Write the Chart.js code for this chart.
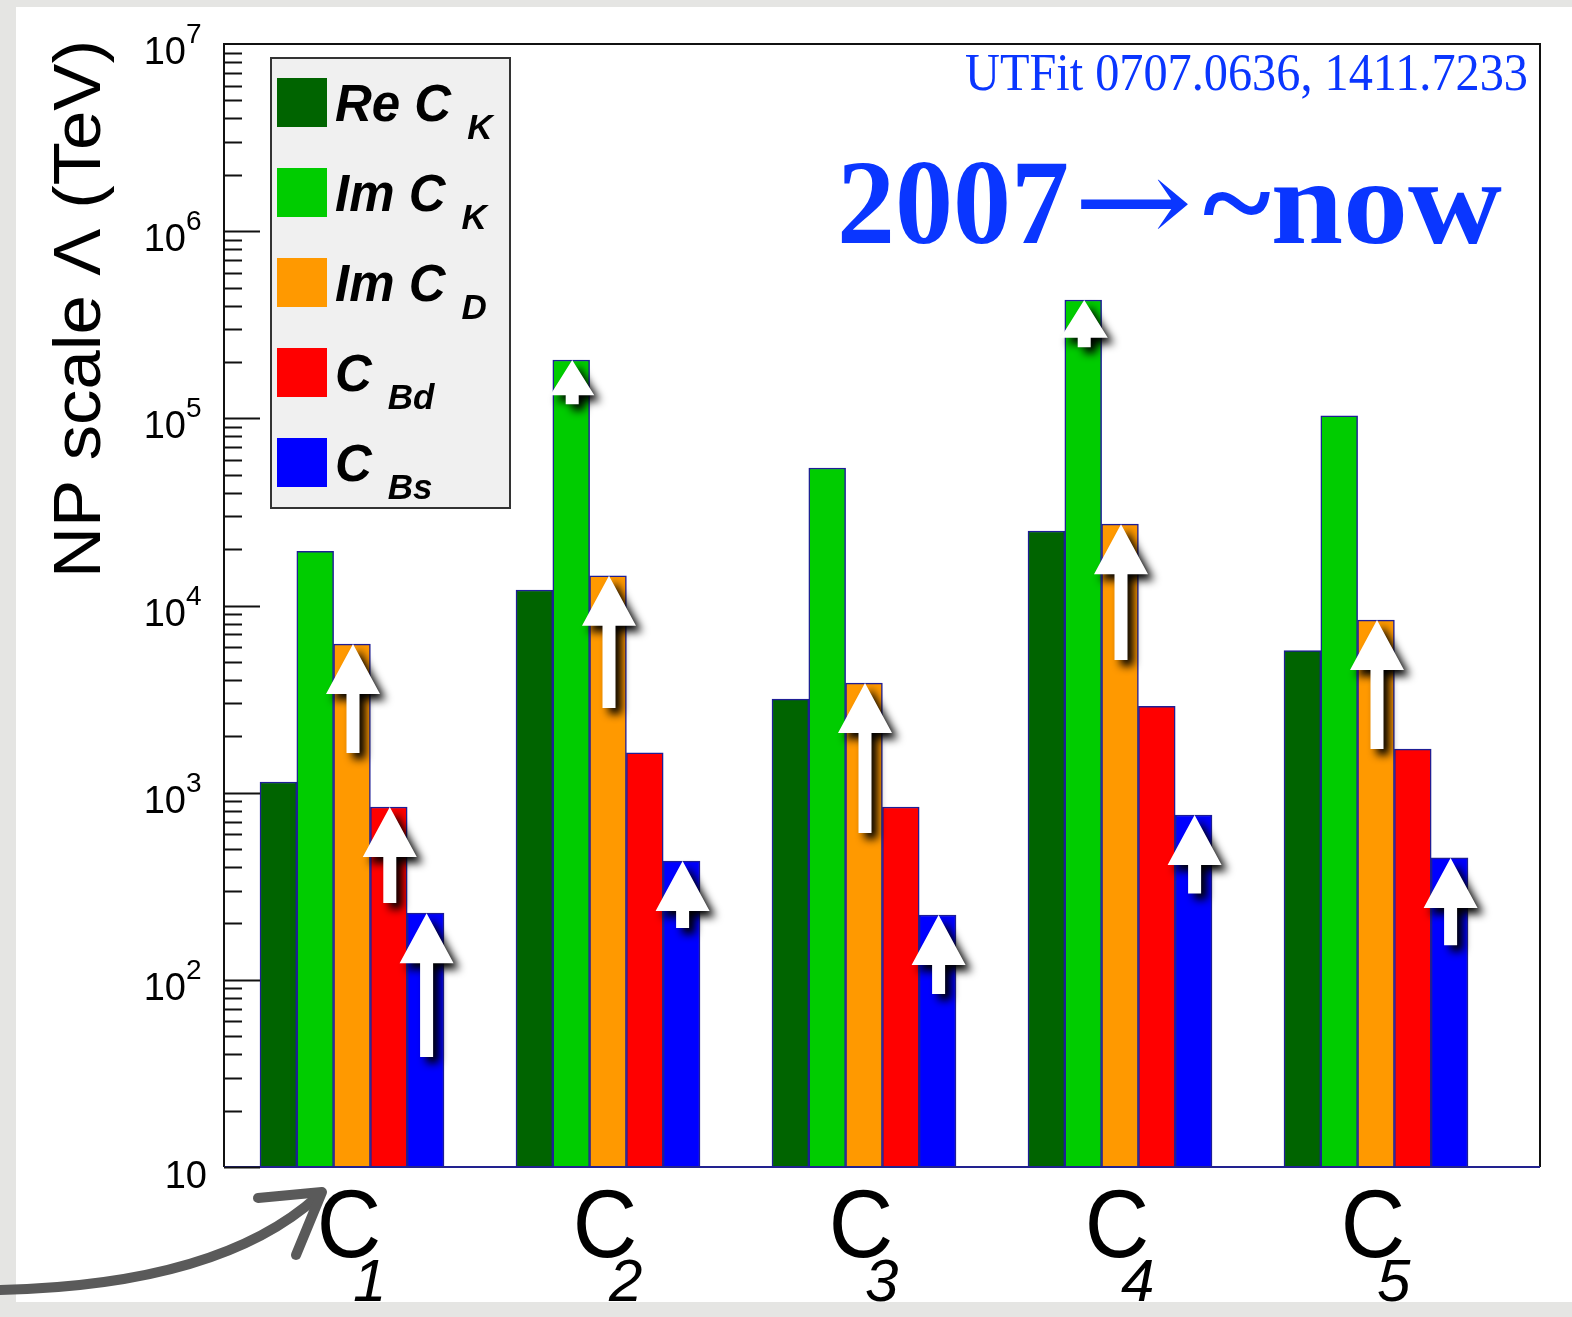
<!DOCTYPE html>
<html>
<head>
<meta charset="utf-8">
<title>NP scale bounds</title>
<script src="https://cdn.jsdelivr.net/npm/chart.js@4.4.1/dist/chart.umd.min.js"></script>
<style>
html, body { margin: 0; padding: 0; background: #e5e5e3; }
#wrap { width: 1572px; height: 1317px; position: relative; }
</style>
</head>
<body>
<div id="wrap"><canvas id="c"></canvas></div>
<script>
// operators C_1 .. C_5 (subscripts)
const operators = ['1', '2', '3', '4', '5'];

// current bounds on the NP scale (TeV)
const reCK = [1140, 12100, 3160, 25000, 5750];
const imCK = [19500, 205000, 54300, 429000, 103000];
const imCD = [6220, 14400, 3850, 27200, 8360];
const cBd  = [838, 1630, 838, 2890, 1710];
const cBs  = [227, 431, 222, 760, 448];

// 2007 bounds, where the white arrows start (null = no arrow)
const reCK07 = [null, null, null, null, null];
const imCK07 = [null, 119000, null, 240000, null];
const imCD07 = [1630, 2830, 609, 5120, 1710];
const cBd07  = [257, null, null, null, null];
const cBs07  = [38.7, 189, 84, 289, 153];

const yTickExps = [1, 2, 3, 4, 5, 6, 7];

const legendMain = ['Re C', 'Im C', 'Im C', 'C', 'C'];
const legendSub  = ['K', 'K', 'D', 'Bd', 'Bs'];
const colors = ['#006400', '#00cc00', '#ff9900', '#ff0000', '#0000ff'];

const nowVals = [reCK, imCK, imCD, cBd, cBs];
const oldVals = [reCK07, imCK07, imCD07, cBd07, cBs07];

const SANS = '"Liberation Sans", Arial, Helvetica, sans-serif';
const SERIF = '"Liberation Serif", "Times New Roman", serif';
const BLUE = '#0a36ff';

function fitText(ctx, txt, x, y, w) {
    let m = ctx.measureText(txt).width;
    ctx.save();
    ctx.translate(x, y);
    ctx.scale(w / m, 1);
    ctx.fillText(txt, 0, 0);
    ctx.restore();
}

function drawArrow(ctx, x, yTip, yTail) {
    let len = yTail - yTip;
    let hh = Math.min(50, len * 0.8);
    let hw = Math.min(54, hh * 1.25);
    let sw = 13;
    ctx.beginPath();
    ctx.moveTo(x, yTip);
    ctx.lineTo(x + hw / 2, yTip + hh);
    ctx.lineTo(x + sw / 2, yTip + hh);
    ctx.lineTo(x + sw / 2, yTail);
    ctx.lineTo(x - sw / 2, yTail);
    ctx.lineTo(x - sw / 2, yTip + hh);
    ctx.lineTo(x - hw / 2, yTip + hh);
    ctx.closePath();
    ctx.fill();
}

const decor = {
    id: 'decor',
    beforeDraw(chart) {
        let ctx = chart.ctx;
        ctx.save();
        ctx.fillStyle = '#e5e5e3';
        ctx.fillRect(0, 0, chart.width, chart.height);
        ctx.fillStyle = '#ffffff';
        ctx.fillRect(16, 7, chart.width - 16, 1295);
        ctx.restore();
    },
    afterDatasetsDraw(chart) {
        let ctx = chart.ctx;
        let a = chart.chartArea;
        let y = chart.scales.y;

        // white arrows 2007 -> now
        ctx.save();
        ctx.fillStyle = '#ffffff';
        ctx.shadowColor = 'rgba(0,0,0,1)';
        ctx.shadowBlur = 9;
        ctx.shadowOffsetX = 6;
        ctx.shadowOffsetY = 6;
        oldVals.forEach((arr, d) => {
            let meta = chart.getDatasetMeta(d);
            arr.forEach((v, i) => {
                if (v == null) return;
                let bx = meta.data[i].x + 1;
                drawArrow(ctx, bx, y.getPixelForValue(nowVals[d][i]), y.getPixelForValue(v));
            });
        });
        ctx.restore();

        // frame
        ctx.save();
        ctx.lineWidth = 2;
        ctx.strokeStyle = '#111';
        ctx.beginPath();
        ctx.moveTo(a.left, a.bottom);
        ctx.lineTo(a.left, a.top);
        ctx.lineTo(a.right, a.top);
        ctx.lineTo(a.right, a.bottom);
        ctx.stroke();
        ctx.strokeStyle = '#22228f';
        ctx.beginPath();
        ctx.moveTo(a.left, a.bottom);
        ctx.lineTo(a.right, a.bottom);
        ctx.stroke();

        // y ticks, drawn inside the frame
        ctx.strokeStyle = '#111';
        ctx.beginPath();
        for (let e = 1; e < 7; e++) {
            for (let k = 1; k <= 9; k++) {
                let py = Math.round(y.getPixelForValue(k * Math.pow(10, e))) + 0.5;
                let len = k === 1 ? 36 : 18;
                ctx.moveTo(a.left, py);
                ctx.lineTo(a.left + len, py);
            }
        }
        ctx.stroke();
        ctx.restore();
    },
    afterDraw(chart) {
        let ctx = chart.ctx;
        let y = chart.scales.y;
        let x = chart.scales.x;
        ctx.save();

        // y tick labels 10^n
        ctx.fillStyle = '#000';
        ctx.textBaseline = 'alphabetic';
        yTickExps.forEach(e => {
            let py = y.getPixelForValue(Math.pow(10, e));
            if (e === 1) {
                ctx.font = '38px ' + SANS;
                ctx.textAlign = 'right';
                ctx.fillText('10', 207, py + 21);
            } else {
                ctx.font = '28px ' + SANS;
                ctx.textAlign = 'left';
                ctx.fillText(String(e), 186, py - 1);
                ctx.font = '38px ' + SANS;
                ctx.textAlign = 'right';
                ctx.fillText('10', 186, py + 20);
            }
        });

        // y title
        ctx.save();
        ctx.translate(100, 578);
        ctx.rotate(-Math.PI / 2);
        ctx.font = '66px ' + SANS;
        ctx.textAlign = 'left';
        fitText(ctx, 'NP scale \u039B (TeV)', 0, 0, 538);
        ctx.restore();

        // x labels C_i
        operators.forEach((s, i) => {
            let cx = x.getPixelForValue(i + 0.5);
            ctx.save();
            ctx.translate(cx - 3, 1257);
            ctx.scale(0.93, 1);
            ctx.font = '96px ' + SANS;
            ctx.textAlign = 'center';
            ctx.fillText('C', 0, 0);
            ctx.restore();
            ctx.font = 'italic 60px ' + SANS;
            ctx.textAlign = 'left';
            ctx.fillText(s, cx + 1, 1301);
        });

        // legend
        ctx.fillStyle = '#f0f0f0';
        ctx.fillRect(271, 58, 239, 450);
        ctx.lineWidth = 2;
        ctx.strokeStyle = '#333';
        ctx.strokeRect(271, 58, 239, 450);
        legendMain.forEach((t, k) => {
            let top = 78 + 90 * k;
            ctx.fillStyle = colors[k];
            ctx.fillRect(277, top, 50, 49);
            ctx.fillStyle = '#000';
            ctx.textAlign = 'left';
            ctx.font = 'italic bold 51px ' + SANS;
            ctx.fillText(t, 335, top + 43);
            let w = ctx.measureText(t).width;
            ctx.font = 'italic bold 35px ' + SANS;
            ctx.fillText(legendSub[k], 335 + w + 16, top + 61);
        });

        // reference and big label
        ctx.fillStyle = BLUE;
        ctx.textAlign = 'left';
        ctx.font = '53px ' + SERIF;
        fitText(ctx, 'UTFit 0707.0636, 1411.7233', 965, 90, 563);
        ctx.font = 'bold 120px ' + SERIF;
        fitText(ctx, '2007', 837, 243, 232);
        fitText(ctx, '~now', 1203, 243, 299);
        ctx.font = '120px "DejaVu Serif", ' + SERIF;
        fitText(ctx, '\u2192', 1073, 243, 120);

        // hand drawn arrow pointing to C1
        ctx.strokeStyle = '#5a5a5a';
        ctx.lineWidth = 10;
        ctx.lineCap = 'round';
        ctx.lineJoin = 'round';
        ctx.beginPath();
        ctx.moveTo(0, 1290);
        ctx.quadraticCurveTo(220, 1285, 318, 1196);
        ctx.stroke();
        ctx.beginPath();
        ctx.moveTo(258, 1198);
        ctx.lineTo(322, 1192);
        ctx.lineTo(296, 1255);
        ctx.stroke();

        ctx.restore();
    }
};

const datasets = nowVals.map((vals, d) => ({
    label: legendMain[d] + '_' + legendSub[d],
    data: vals.map((v, i) => ({ x: i + 0.5, y: v })),
    backgroundColor: colors[d],
    borderColor: '#1e1e96',
    borderWidth: 1.5,
    barThickness: 36.8
}));

new Chart(document.getElementById('c'), {
    type: 'bar',
    data: { datasets: datasets },
    options: {
        responsive: true,
        maintainAspectRatio: false,
        animation: false,
        layout: { padding: { left: 224, right: 32, top: 44, bottom: 150 } },
        plugins: { legend: { display: false }, tooltip: { enabled: false } },
        scales: {
            x: { type: 'linear', min: 0, max: 1316 / 256, offset: false, display: false },
            y: { type: 'logarithmic', min: 10, max: 1e7, display: false }
        }
    },
    plugins: [decor]
});
</script>
</body>
</html>
